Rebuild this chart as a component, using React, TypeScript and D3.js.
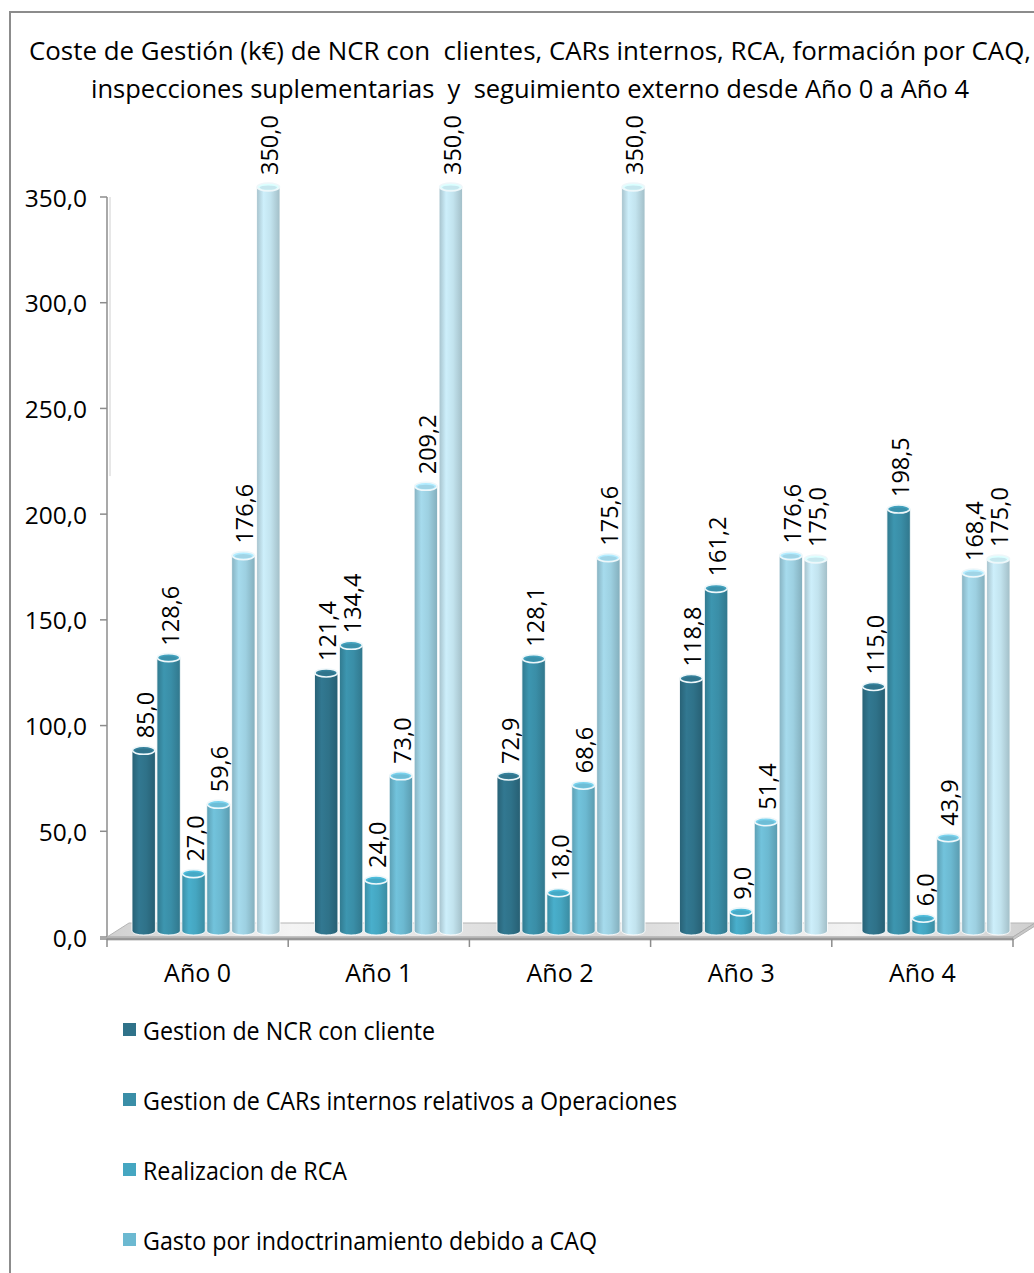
import React from "react";
import * as d3 from "d3";

const categories = ["Año 0", "Año 1", "Año 2", "Año 3", "Año 4"];
const seriesNames = [
  "Gestion de NCR con cliente",
  "Gestion de CARs internos relativos a Operaciones",
  "Realizacion de RCA",
  "Gasto por indoctrinamiento debido a CAQ",
  "Inspecciones suplementarias",
  "Seguimiento externo",
];
const ncrCliente = [85.0, 121.4, 72.9, 118.8, 115.0];
const carsInternos = [128.6, 134.4, 128.1, 161.2, 198.5];
const realizacionRCA = [27.0, 24.0, 18.0, 9.0, 6.0];
const gastoCAQ = [59.6, 73.0, 68.6, 51.4, 43.9];
const inspecciones = [176.6, 209.2, 175.6, 176.6, 168.4];
const seguimiento = [350.0, 350.0, 350.0, 175.0, 175.0];
const seriesValues = [ncrCliente, carsInternos, realizacionRCA, gastoCAQ, inspecciones, seguimiento];
const colors = ["#2f7289", "#3a8ea7", "#45a6c1", "#6cb9d1", "#9dd0e1", "#c2e3ee"];
const yTicks = [0, 50, 100, 150, 200, 250, 300, 350];
const titleLines = [
  "Coste de Gestión (k€) de NCR con  clientes, CARs internos, RCA, formación por CAQ,",
  "inspecciones suplementarias  y  seguimiento externo desde Año 0 a Año 4",
];
const titleWidths = [1002, 878];
const legendWidths = [292, 534, 204, 454, 420, 300];

const W = 1034;
const H = 1273;
const FONT = "'Open Sans', 'DejaVu Sans', sans-serif";

const fmt = (v: number) => d3.format(".1f")(v).replace(".", ",");

export default function App() {
  const axisLeft = 107;
  const axisRight = 1013;
  const yAxis = d3.scaleLinear().domain([0, 350]).range([937, 197]);
  const yBar = d3.scaleLinear().domain([0, 350]).range([931, 187]);
  const xAxis = d3.scaleBand<string>().domain(categories).range([axisLeft, axisRight]);
  const xGroup = d3.scaleBand<string>().domain(categories).range([107, 1019.5]);
  const xInner = d3
    .scaleBand<number>()
    .domain(seriesNames.map((_, i) => i))
    .range([25, 173])
    .paddingInner(0.06);
  const bw = xInner.bandwidth();
  const ry = 4;

  const bars: JSX.Element[] = [];
  const labels: JSX.Element[] = [];
  categories.forEach((cat, ci) => {
    seriesValues.forEach((vals, si) => {
      const v = vals[ci];
      const x0 = (xGroup(cat) as number) + (xInner(si) as number);
      const x1 = x0 + bw;
      const cx = (x0 + x1) / 2;
      const yt = yBar(v);
      const yb = yBar(0);
      const rx = bw / 2;
      const body = `M${x0},${yt} L${x0},${yb} A${rx},${ry} 0 0 0 ${x1},${yb} L${x1},${yt} Z`;
      const c = d3.color(colors[si])!;
      bars.push(
        <g key={`b${ci}-${si}`}>
          <path d={body} fill={`url(#grad${si})`} stroke="#ffffff" strokeWidth={1} strokeOpacity={0.85} />
          <ellipse
            cx={cx}
            cy={yt}
            rx={rx - 0.5}
            ry={ry}
            fill={c.brighter(0.35).formatHex()}
            stroke="#eef7fa"
            strokeWidth={1.6}
          />
          <ellipse cx={cx} cy={yt + 0.6} rx={rx - 3} ry={ry - 1.8} fill={c.darker(0.15).formatHex()} opacity={0.6} />
        </g>
      );
      labels.push(
        <text
          key={`l${ci}-${si}`}
          transform={`translate(${cx + 1},${yt - ry - 8}) rotate(-90)`}
          textAnchor="start"
          dominantBaseline="central"
          fontFamily={FONT}
          fontSize={23.5}
          fill="#000"
        >
          {fmt(v)}
        </text>
      );
    });
  });

  const y0 = yAxis(0);
  const floorTop = `M${axisLeft},${y0} L${axisLeft + 22},${y0 - 14} L${axisRight + 22},${y0 - 14} L${axisRight},${y0} Z`;
  const floorFront = `M${axisLeft},${y0} L${axisRight},${y0} L${axisRight},${y0 + 3} L${axisLeft},${y0 + 3} Z`;
  const floorSide = `M${axisRight},${y0} L${axisRight + 22},${y0 - 14} L${axisRight + 22},${y0 - 11} L${axisRight},${y0 + 3} Z`;

  const legendRows = seriesNames
    .map((name, i) => ({ name, i, y: 1030 + i * 70 }))
    .filter((r) => r.y < H - 10);

  return (
    <svg
      width={W}
      height={H}
      style={{ position: "absolute", left: 0, top: 0, background: "#fff" }}
      viewBox={`0 0 ${W} ${H}`}
    >
      <defs>
        {colors.map((col, i) => {
          const c = d3.color(col)!;
          return (
            <linearGradient key={i} id={`grad${i}`} x1="0" x2="1" y1="0" y2="0">
              <stop offset="0%" stopColor={c.darker(0.45).formatHex()} />
              <stop offset="30%" stopColor={c.brighter(0.15).formatHex()} />
              <stop offset="60%" stopColor={col} />
              <stop offset="100%" stopColor={c.darker(0.5).formatHex()} />
            </linearGradient>
          );
        })}
        <linearGradient id="floorGrad" x1="0" x2="1" y1="0" y2="0">
          <stop offset="0%" stopColor="#d0d0d0" />
          <stop offset="20%" stopColor="#f4f4f4" />
          <stop offset="50%" stopColor="#d6d6d6" />
          <stop offset="80%" stopColor="#f2f2f2" />
          <stop offset="100%" stopColor="#cfcfcf" />
        </linearGradient>
      </defs>

      <rect x={10} y={12} width={W + 20} height={H + 20} fill="#fff" stroke="#8c8c8c" strokeWidth={2} />

      {titleLines.map((t, i) => (
        <text
          key={i}
          x={530}
          y={60 + i * 38}
          textAnchor="middle"
          fontFamily={FONT}
          fontSize={25}
          textLength={titleWidths[i]}
          lengthAdjust="spacingAndGlyphs"
          style={{ whiteSpace: "pre" }}
          fill="#000"
        >
          {t}
        </text>
      ))}

      {/* y axis */}
      <line x1={axisLeft + 3} x2={axisLeft + 3} y1={yAxis(350)} y2={yAxis(218)} stroke="#d0d0d0" strokeWidth={1} />
      <line x1={axisLeft} x2={axisLeft} y1={yAxis(350)} y2={y0} stroke="#8c8c8c" strokeWidth={1.5} />
      {yTicks.map((t) => (
        <g key={t}>
          <line x1={axisLeft - 7} x2={axisLeft} y1={yAxis(t)} y2={yAxis(t)} stroke="#8c8c8c" strokeWidth={1.5} />
          <text
            x={87}
            y={yAxis(t)}
            textAnchor="end"
            dominantBaseline="central"
            fontFamily={FONT}
            fontSize={24.5}
            fill="#000"
          >
            {fmt(t)}
          </text>
        </g>
      ))}

      {/* floor */}
      <path d={floorTop} fill="url(#floorGrad)" stroke="#b5b5b5" strokeWidth={1} />
      <path d={floorFront} fill="#bdbdbd" stroke="#a8a8a8" strokeWidth={0.8} />
      <path d={floorSide} fill="#c8c8c8" stroke="#a8a8a8" strokeWidth={0.8} />

      {/* x axis */}
      <line x1={axisLeft - 7} x2={axisRight} y1={y0 + 2} y2={y0 + 2} stroke="#8c8c8c" strokeWidth={1.5} />
      {[...categories.map((c) => xAxis(c) as number), axisRight].map((x, i) => (
        <line key={i} x1={x} x2={x} y1={y0 + 2} y2={y0 + 10} stroke="#8c8c8c" strokeWidth={1.5} />
      ))}
      {categories.map((c) => (
        <text
          key={c}
          x={(xAxis(c) as number) + xAxis.bandwidth() / 2}
          y={972}
          textAnchor="middle"
          dominantBaseline="central"
          fontFamily={FONT}
          fontSize={25}
          fill="#000"
        >
          {c}
        </text>
      ))}

      {bars}
      {labels}

      {legendRows.map((r) => (
        <g key={r.i}>
          <rect x={123} y={r.y - 7} width={13} height={13} fill={colors[r.i]} />
          <text
            x={143}
            y={r.y}
            dominantBaseline="central"
            fontFamily={FONT}
            fontSize={25}
            textLength={legendWidths[r.i]}
            lengthAdjust="spacingAndGlyphs"
            fill="#000"
          >
            {r.name}
          </text>
        </g>
      ))}
    </svg>
  );
}
